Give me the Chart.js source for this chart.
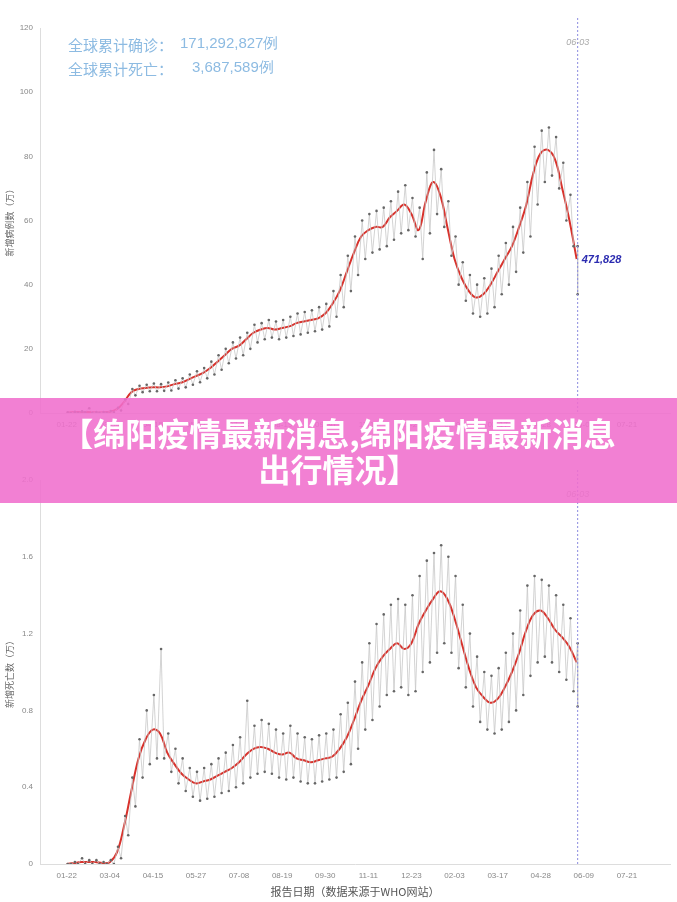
<!DOCTYPE html>
<html><head><meta charset="utf-8">
<script src="https://cdn.jsdelivr.net/npm/chart.js@4"></script>
<style>
body{margin:0;width:677px;height:902px;background:#fff;position:relative;overflow:hidden;font-family:"Liberation Sans",Arial,sans-serif}
.c{position:absolute;left:0;width:677px}
.leg{position:absolute;left:68px;color:#8dbbe2;font-size:15px;font-family:"Noto Sans CJK SC","Liberation Sans";}
.leg span{position:absolute;white-space:nowrap;font-family:"Liberation Sans",Arial;font-size:15px}
#banner{position:absolute;left:0;top:398px;width:677px;height:105px;background:rgba(240,110,205,0.88);color:#fff;font-family:"Noto Sans CJK SC";font-weight:bold;font-size:32px;line-height:36px;text-align:center;padding-top:16px;box-sizing:border-box}
</style></head><body>
<div class="c" style="top:0;height:440px"><canvas id="c1"></canvas></div>
<div class="c" style="top:440px;height:462px"><canvas id="c2"></canvas></div>
<div class="leg" style="top:34px">全球累计确诊：<span style="left:112px;top:0">171,292,827例</span></div>
<div class="leg" style="top:58px">全球累计死亡：<span style="left:124px;top:0">3,687,589例</span></div>
<div id="banner">【绵阳疫情最新消息,绵阳疫情最新消息<br>出行情况】</div>
<script>
const tickLabels=["01-22","03-04","04-15","05-27","07-08","08-19","09-30","11-11","12-23","02-03","03-17","04-28","06-09","07-21"];
const casesAvg=[0.1,0.3,0.3,0.3,0.2,0.2,0.4,1.2,3.5,6.5,7.5,7.8,8.0,8.0,8.3,9.0,9.5,10.5,11.5,12.5,14,16,18,20,21,23,25,26,26.5,26,26.5,27,28,28.5,29,29.5,31,34,38,44,50,55,57,58,58,61,63,65,62,57,66,72,68,58,48,42,38,36,37,40,44,48,52,58,65,75,81,82,79,70,60,48];
const casesHi=[0.2,0.4,0.5,1.5,0.3,0.3,0.6,1.6,4.2,7.5,8.5,8.8,9.2,9.0,9.5,10.2,10.8,12,13,14,16,18,20,22,23.5,25,27.5,28,29,28.5,29,30,31,31.5,32,33,34,38,43,49,55,60,62,63,64,66,69,71,67,64,75,82,76,66,55,47,43,40,42,45,49,53,58,64,72,83,88,89,86,78,68,52];
const casesLo=[0.0,0.1,0.2,0.1,0.1,0.1,0.2,0.8,2.8,5.5,6.5,6.8,6.8,6.9,7.0,7.6,8.0,8.8,9.6,10.8,12,13.5,15.5,17,18,20,22,23,23.5,23,23.5,24,24.5,25,25.5,26,27,30,33,38,43,48,50,51,52,54,56,57,55,48,56,62,58,49,40,35,31,30,31,33,37,40,44,50,55,65,72,74,70,60,52,37];
const deathsAvg=[0.0,0.005,0.01,0.01,0.01,0.005,0.01,0.06,0.2,0.38,0.55,0.65,0.7,0.68,0.58,0.52,0.47,0.44,0.42,0.43,0.44,0.46,0.48,0.5,0.53,0.57,0.6,0.61,0.6,0.58,0.57,0.58,0.55,0.54,0.53,0.54,0.55,0.56,0.6,0.66,0.75,0.85,0.93,1.02,1.08,1.12,1.15,1.12,1.15,1.25,1.32,1.38,1.42,1.38,1.28,1.15,1.02,0.92,0.87,0.84,0.86,0.92,1.0,1.1,1.22,1.3,1.32,1.28,1.22,1.18,1.13,1.05];
const deathsHi=[0.0,0.01,0.03,0.02,0.02,0.01,0.02,0.09,0.25,0.45,0.65,0.8,0.88,1.12,0.68,0.6,0.55,0.5,0.48,0.5,0.52,0.55,0.58,0.62,0.66,0.85,0.72,0.75,0.73,0.7,0.68,0.72,0.68,0.66,0.65,0.67,0.68,0.7,0.78,0.84,0.95,1.05,1.15,1.25,1.3,1.35,1.38,1.35,1.4,1.5,1.58,1.62,1.66,1.6,1.5,1.35,1.2,1.08,1.0,0.98,1.02,1.1,1.2,1.32,1.45,1.5,1.48,1.45,1.4,1.35,1.28,1.15];
const deathsLo=[0.0,0.0,0.0,0.0,0.0,0.0,0.0,0.03,0.15,0.3,0.45,0.52,0.55,0.55,0.48,0.42,0.38,0.35,0.33,0.34,0.35,0.37,0.38,0.4,0.42,0.45,0.47,0.48,0.47,0.45,0.44,0.45,0.43,0.42,0.42,0.43,0.44,0.45,0.48,0.52,0.6,0.7,0.75,0.82,0.88,0.9,0.92,0.88,0.9,1.0,1.05,1.1,1.15,1.1,1.02,0.92,0.82,0.74,0.7,0.68,0.7,0.74,0.8,0.88,0.98,1.05,1.08,1.05,1.0,0.96,0.9,0.82];
const lastDay=498;
function avgPts(a){return a.map((v,i)=>({x:Math.min(i*7,lastDay),y:v}));}
function dailyPts(h,l){const r=[];h.forEach((v,i)=>{r.push({x:i*7+1,y:v});r.push({x:Math.min(i*7+4,lastDay),y:l[i]});});return r;}
const vline={id:'vline',afterDatasetsDraw(ch,a,o){const c=ch.ctx,x=ch.scales.x.getPixelForValue(lastDay),ca=ch.chartArea;c.save();c.strokeStyle='#8c8ce0';c.setLineDash([2,2]);c.lineWidth=1;c.beginPath();c.moveTo(x,ca.top-10);c.lineTo(x,ca.bottom);c.stroke();c.setLineDash([]);c.fillStyle='#aaa';c.font='italic 9px Liberation Sans';c.textAlign='center';c.fillText('06-03',x,ca.top+17);
if(o.label){const ds=ch.data.datasets[1].data;const p=ds[ds.length-1];const y=ch.scales.y.getPixelForValue(p.y);c.fillStyle='#2b2bb0';c.font='italic bold 11px Liberation Sans';c.textAlign='left';c.fillText(o.label,x+4,y+4);}c.restore();}};
function make(id,avg,hi,lo,max,step,title,padTop,xh,showTitle,label){
new Chart(document.getElementById(id),{type:'line',plugins:[vline],
data:{datasets:[{data:dailyPts(hi,lo),borderColor:'#c8c8c8',borderWidth:0.8,pointRadius:1.3,pointBackgroundColor:'#666',pointBorderWidth:0,tension:0},
{data:avgPts(avg),borderColor:'#d8322c',borderWidth:2,pointRadius:0,tension:0.4}]},
options:{responsive:true,maintainAspectRatio:false,animation:false,layout:{padding:{top:padTop,right:7,left:0,bottom:0}},
plugins:{legend:{display:false},tooltip:{enabled:false},vline:{label:label}},
scales:{x:{type:'linear',min:-26,max:588,afterFit:s=>{s.height=xh},afterBuildTicks:s=>{s.ticks=tickLabels.map((t,i)=>({value:i*42}))},
ticks:{autoSkip:false,maxRotation:0,font:{size:8},color:'#888',callback:(v)=>tickLabels[Math.round(v/42)]},grid:{display:false,drawTicks:true,tickLength:4},border:{color:'#ddd'},
title:{display:showTitle,text:'报告日期（数据来源于WHO网站）',font:{size:11,family:'Noto Sans CJK SC'},color:'#555',padding:{top:2}}},
y:{min:0,max:max,afterFit:s=>{s.width=40},ticks:{stepSize:step,font:{size:8},color:'#888',callback:v=>(max<5&&v!==0)?v.toFixed(1):v},grid:{display:false,tickLength:4},border:{color:'#ddd'},
title:{display:true,text:title,font:{size:9,family:'Noto Sans CJK SC'},color:'#666'}}}}});}
make('c1',casesAvg,casesHi,casesLo,120,20,'新增病例数（万）',28,27,false,'471,828');
make('c2',deathsAvg,deathsHi,deathsLo,2.0,0.4,'新增死亡数（万）',40,38,true,null);
</script></body></html>
